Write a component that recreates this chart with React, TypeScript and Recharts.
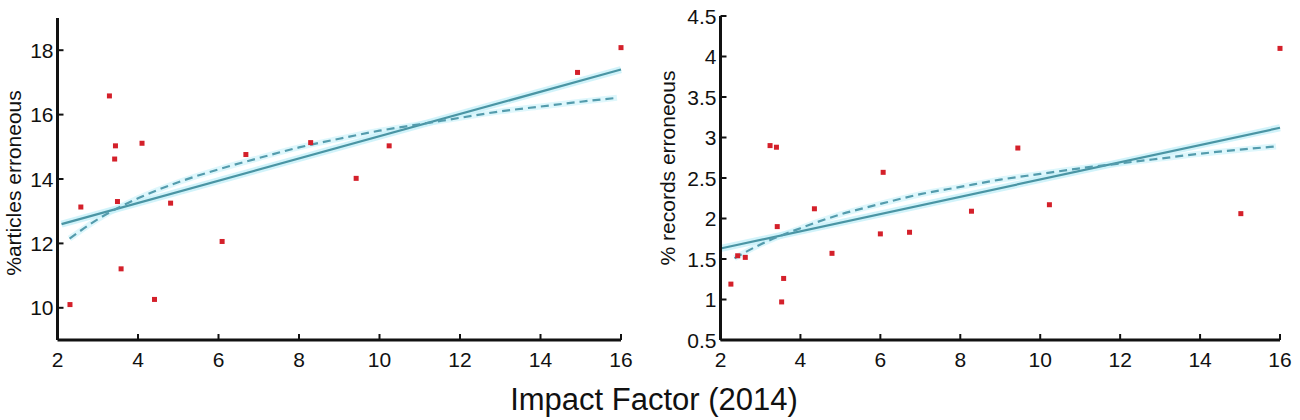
import { ComposedChart, Scatter, Line, XAxis, YAxis } from 'recharts'

// impact factor (x) vs % articles erroneous (y), left panel
const articlesPts = [
  { x: 2.31, y: 10.1 },
  { x: 2.58, y: 13.13 },
  { x: 3.29, y: 16.58 },
  { x: 3.44, y: 15.03 },
  { x: 3.42, y: 14.62 },
  { x: 3.49, y: 13.3 },
  { x: 3.58, y: 11.21 },
  { x: 4.1, y: 15.11 },
  { x: 4.41, y: 10.26 },
  { x: 4.81, y: 13.25 },
  { x: 6.09, y: 12.06 },
  { x: 6.68, y: 14.76 },
  { x: 8.29, y: 15.13 },
  { x: 9.42, y: 14.02 },
  { x: 10.24, y: 15.03 },
  { x: 14.92, y: 17.31 },
  { x: 16.0, y: 18.08 },
]
const articlesLinear = [
  { x: 2.1, y: 12.6 },
  { x: 16, y: 17.4 },
]
const articlesCurve = [
  { x: 2.3, y: 12.15 },
  { x: 3, y: 12.75 },
  { x: 4, y: 13.4 },
  { x: 5, y: 13.9 },
  { x: 6, y: 14.3 },
  { x: 7, y: 14.65 },
  { x: 8, y: 14.98 },
  { x: 9, y: 15.25 },
  { x: 10, y: 15.5 },
  { x: 11, y: 15.7 },
  { x: 12, y: 15.9 },
  { x: 13, y: 16.1 },
  { x: 14, y: 16.25 },
  { x: 15, y: 16.4 },
  { x: 15.9, y: 16.52 },
]

// right panel: % records erroneous
const recordsPts = [
  { x: 2.26, y: 1.19 },
  { x: 2.43, y: 1.54 },
  { x: 2.62, y: 1.52 },
  { x: 3.24, y: 2.9 },
  { x: 3.4, y: 2.88 },
  { x: 3.42, y: 1.9 },
  { x: 3.53, y: 0.97 },
  { x: 3.58, y: 1.26 },
  { x: 4.35, y: 2.12 },
  { x: 4.79, y: 1.57 },
  { x: 6.0, y: 1.81 },
  { x: 6.07, y: 2.57 },
  { x: 6.73, y: 1.83 },
  { x: 8.28, y: 2.09 },
  { x: 9.44, y: 2.87 },
  { x: 10.23, y: 2.17 },
  { x: 15.02, y: 2.06 },
  { x: 16.0, y: 4.1 },
]
const recordsLinear = [
  { x: 2, y: 1.63 },
  { x: 16, y: 3.12 },
]
const recordsCurve = [
  { x: 2.35, y: 1.51 },
  { x: 3, y: 1.68 },
  { x: 4, y: 1.88 },
  { x: 5, y: 2.05 },
  { x: 6, y: 2.18 },
  { x: 7, y: 2.3 },
  { x: 8, y: 2.39 },
  { x: 9, y: 2.48 },
  { x: 10, y: 2.55 },
  { x: 11, y: 2.62 },
  { x: 12, y: 2.68 },
  { x: 13, y: 2.74 },
  { x: 14, y: 2.8 },
  { x: 15, y: 2.85 },
  { x: 15.9, y: 2.89 },
]

const xTicks = [2, 4, 6, 8, 10, 12, 14, 16]
const articlesTicks = [10, 12, 14, 16, 18]
const recordsTicks = [0.5, 1, 1.5, 2, 2.5, 3, 3.5, 4, 4.5]

const FONT = '"Liberation Sans", Arial, sans-serif'
const AXIS = '#111'

function XTick(props: any) {
  const { x, y, payload } = props
  return (
    <g>
      <line x1={x} x2={x} y1={y} y2={y - 6} stroke={AXIS} strokeWidth={2} />
      <text x={x} y={y + 19} textAnchor="middle" dominantBaseline="central" fontSize={21} fontFamily={FONT} fill="#111">
        {payload.value}
      </text>
    </g>
  )
}

function YTick(props: any) {
  const { x, y, payload } = props
  return (
    <g>
      <line x1={x} x2={x + 6} y1={y} y2={y} stroke={AXIS} strokeWidth={2} />
      <text x={x - 4} y={y} textAnchor="end" dominantBaseline="central" fontSize={21} fontFamily={FONT} fill="#111">
        {payload.value}
      </text>
    </g>
  )
}

function Dot(props: any) {
  const { cx, cy } = props
  return <rect x={cx - 2.5} y={cy - 2.5} width={5} height={5} fill="#d4202a" />
}

function Panel({ pts, linear, curve, yDomain, yTicks, yWidth, margin, width }: any) {
  return (
    <ComposedChart width={width} height={420} margin={margin}>
      <XAxis
        type="number"
        dataKey="x"
        domain={[2, 16]}
        ticks={xTicks}
        height={30}
        tickSize={0}
        tickMargin={0}
        tickLine={false}
        axisLine={{ stroke: AXIS, strokeWidth: 3 }}
        tick={(p: any) => <XTick {...p} />}
      />
      <YAxis
        type="number"
        dataKey="y"
        domain={yDomain}
        ticks={yTicks}
        width={yWidth}
        tickSize={0}
        tickMargin={0}
        tickLine={false}
        axisLine={{ stroke: AXIS, strokeWidth: 3 }}
        tick={(p: any) => <YTick {...p} />}
      />
      <Line data={linear} dataKey="y" type="linear" stroke="#bdeef8" strokeWidth={7} strokeOpacity={0.7} dot={false} isAnimationActive={false} />
      <Line data={curve} dataKey="y" type="monotone" stroke="#c8f1fa" strokeWidth={6} strokeOpacity={0.6} dot={false} isAnimationActive={false} />
      <Line data={linear} dataKey="y" type="linear" stroke="#4a95a4" strokeWidth={2.2} dot={false} isAnimationActive={false} />
      <Line data={curve} dataKey="y" type="monotone" stroke="#549cad" strokeWidth={2.2} strokeDasharray="8 5" dot={false} isAnimationActive={false} />
      <Scatter data={pts} dataKey="y" shape={<Dot />} isAnimationActive={false} />
    </ComposedChart>
  )
}

export default function App() {
  return (
    <div style={{ position: 'absolute', left: 0, top: 0, width: 1300, height: 420, background: '#fff' }}>
      <div style={{ position: 'absolute', left: 0, top: 0 }}>
        <Panel
          pts={articlesPts}
          linear={articlesLinear}
          curve={articlesCurve}
          yDomain={[9, 19]}
          yTicks={articlesTicks}
          yWidth={57.5}
          width={640}
          margin={{ top: 18, right: 19, bottom: 50, left: 0 }}
        />
      </div>
      <div style={{ position: 'absolute', left: 640, top: 0 }}>
        <Panel
          pts={recordsPts}
          linear={recordsLinear}
          curve={recordsCurve}
          yDomain={[0.5, 4.5]}
          yTicks={recordsTicks}
          yWidth={80.5}
          width={660}
          margin={{ top: 16, right: 20, bottom: 50, left: 0 }}
        />
      </div>
      <svg width={1300} height={420} style={{ position: 'absolute', left: 0, top: 0, pointerEvents: 'none' }}>
        <text x={13} y={183} transform="rotate(-90 13 183)" textAnchor="middle" dominantBaseline="central" fontSize={21} fontFamily={FONT} fill="#111">
          %articles erroneous
        </text>
        <text x={667} y={168} transform="rotate(-90 667 168)" textAnchor="middle" dominantBaseline="central" fontSize={21} fontFamily={FONT} fill="#111">
          % records erroneous
        </text>
        <text x={654} y={410} textAnchor="middle" fontSize={31} fontFamily={FONT} fill="#111">
          Impact Factor (2014)
        </text>
      </svg>
    </div>
  )
}
